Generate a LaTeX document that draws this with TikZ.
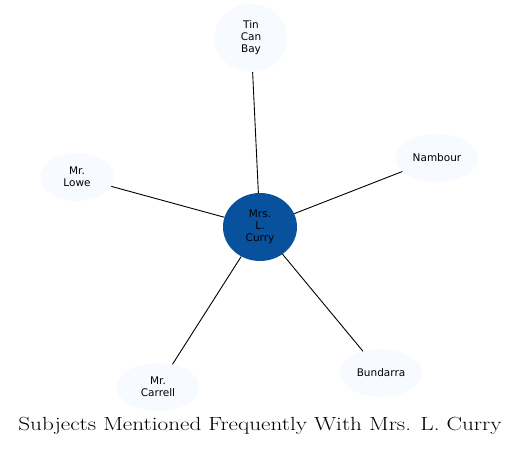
\documentclass[tikz,border=0pt]{standalone}
\usepackage{fontspec}
\newfontfamily\nodefont{DejaVu Sans}
\newfontfamily\titlefont[FakeStretch=1.22]{Latin Modern Roman}
\usetikzlibrary{shapes.geometric}
\definecolor{centerblue}{HTML}{08519C}
\definecolor{leafblue}{HTML}{F7FBFF}
\tikzset{
  leaf/.style={ellipse, fill=leafblue, draw=none, minimum width=#1, minimum height=48pt, inner sep=0pt,
    font=\nodefont\fontsize{10.5}{12}\selectfont, align=center},
  hub/.style={ellipse, fill=centerblue, draw=none, minimum width=74pt, minimum height=68pt, inner sep=0pt,
    font=\nodefont\fontsize{10.5}{12}\selectfont, align=center},
  link/.style={draw=black, line width=0.9pt}
}
\begin{document}
\begin{tikzpicture}[x=1pt,y=-1pt]
\useasboundingbox (0,0) rectangle (520,448);
\node[hub] (c) at (260,227) {Mrs.\\L.\\Curry};
\node[leaf=73pt, minimum height=68pt] (tin) at (251,38) {Tin\\Can\\Bay};
\node[leaf=83pt] (nam) at (437,158) {Nambour};
\node[leaf=74pt] (lowe) at (77,177) {Mr.\\Lowe};
\node[leaf=83pt] (car) at (158,387) {Mr.\\Carrell};
\node[leaf=82pt] (bun) at (381,373) {Bundarra};
\draw[link] (c) -- (tin);
\draw[link] (c) -- (nam);
\draw[link] (c) -- (lowe);
\draw[link] (c) -- (car);
\draw[link] (c) -- (bun);
\node[font=\titlefont\fontsize{19}{21}\selectfont] (title) at (260,426) {Subjects Mentioned Frequently With Mrs. L. Curry};
\end{tikzpicture}
\end{document}
